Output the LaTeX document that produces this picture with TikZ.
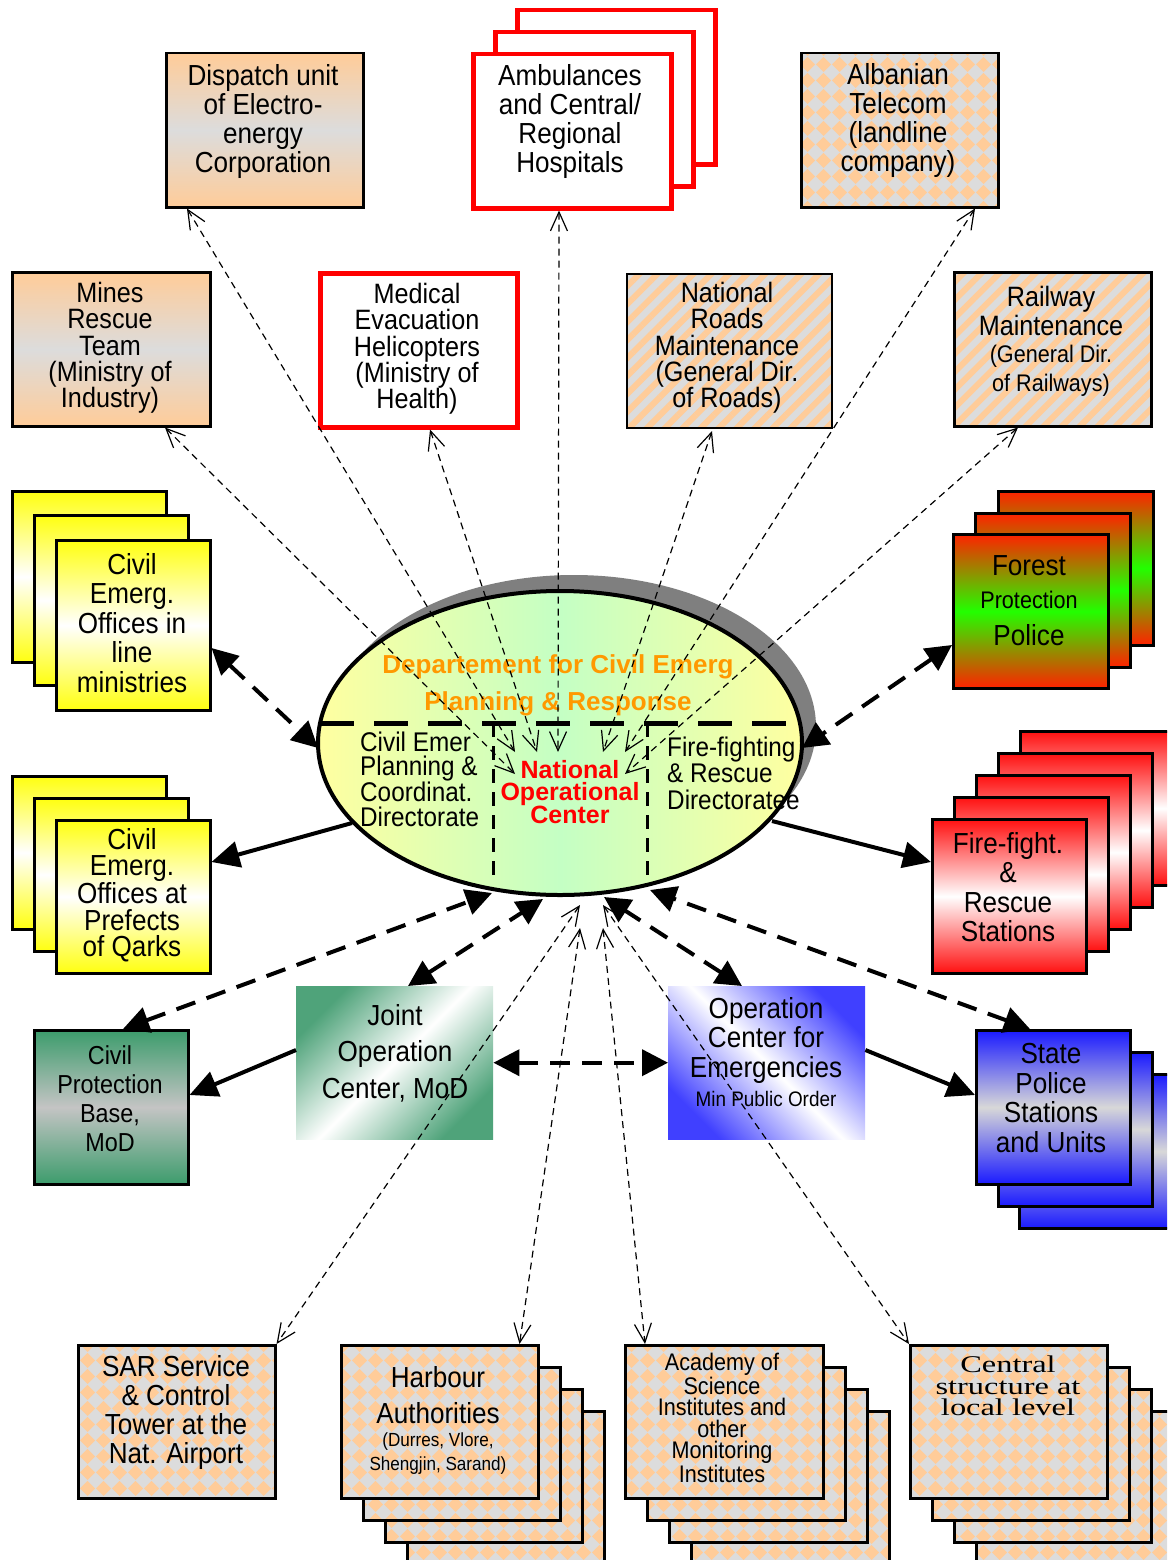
\documentclass[tikz,border=0pt]{standalone}
\usepackage{fontspec}
\usetikzlibrary{shapes.geometric,arrows.meta,patterns.meta,calc}
\newfontfamily\nf[FakeStretch=0.9]{Liberation Sans}
\newfontfamily\nfb{Liberation Sans}
\newfontfamily\cserif[FakeStretch=1.35]{Liberation Serif}
\newcommand\myfs[2]{\fontsize{#1}{#2}\selectfont}
\definecolor{peach}{HTML}{FFCC99}
\definecolor{lgray}{HTML}{DCDCDC}
\definecolor{yel}{HTML}{FFFF10}
\definecolor{fred}{HTML}{FF2200}
\definecolor{fgreen}{HTML}{22FF00}
\definecolor{rred}{HTML}{FF1010}
\definecolor{cgreen}{HTML}{3C9C6C}
\definecolor{cgray}{HTML}{C4C4C4}
\definecolor{jgreen}{HTML}{4FA37A}
\definecolor{oblue}{HTML}{4040FF}
\definecolor{sblue}{HTML}{1A1AFF}
\definecolor{sgray}{HTML}{D8D8D8}
\definecolor{eyel}{HTML}{FFFFA0}
\definecolor{egreen}{HTML}{C4FFC4}
\definecolor{orng}{HTML}{FF9900}
\definecolor{shd}{HTML}{7F7F7F}
\definecolor{bred}{HTML}{FF0000}
\tikzdeclarepattern{
  name=chk,
  type=uncolored,
  bounding box={(0pt,0pt) and (16pt,16pt)},
  tile size={(16pt,16pt)},
  code={\fill (8pt,0pt) -- (16pt,8pt) -- (8pt,16pt) -- (0pt,8pt) -- cycle;}
}
\begin{document}
\begin{tikzpicture}[x=1pt,y=-1pt,
  bx/.style={draw=black, line width=2.5pt, inner sep=0pt, anchor=north west},
  sz/.style 2 args={minimum width=#1pt, minimum height=#2pt},
  rbx/.style={draw=bred, line width=4.5pt, fill=white, inner sep=0pt, anchor=north west},
  peachgray/.style={top color=peach, bottom color=peach, middle color=lgray},
  yelgrad/.style={top color=yel, bottom color=yel, middle color=white},
  forestgrad/.style={top color=fred, bottom color=fred, middle color=fgreen},
  firegrad/.style={top color=rred, bottom color=rred, middle color=white},
  cpbgrad/.style={top color=cgreen, bottom color=cgreen, middle color=cgray},
  spgrad/.style={top color=sblue, bottom color=sblue, middle color=sgray},
  chkfill/.style={preaction={fill=lgray}, pattern=chk, pattern color=peach},
  strfill/.style={preaction={fill=lgray}, pattern={Lines[angle=45,distance=12.7pt,line width=6pt]}, pattern color=peach},
  txt/.style={align=center, inner sep=0pt, font=\nf\myfs{29}{29}},
  thinar/.style={line width=1.2pt, dash pattern=on 7pt off 5pt, {Straight Barb[length=19pt,width=17pt]}-{Straight Barb[length=19pt,width=17pt]}},
  thickdash/.style={line width=4pt, dash pattern=on 20pt off 12pt, {Triangle[length=26pt,width=26pt]}-{Triangle[length=26pt,width=26pt]}},
  thicksolid/.style={line width=4pt, -{Triangle[length=28pt,width=26pt]}}
]
\useasboundingbox (0,0) rectangle (1167,1560);
\clip (0,0) rectangle (1167,1560);

% ---------- central ellipse ----------
\node[ellipse, fill=shd, minimum width=484pt, minimum height=304pt, inner sep=0pt] (depsh) at (574,727) {};
\node[ellipse, draw=black, line width=4pt, minimum width=484pt, minimum height=304pt, inner sep=0pt,
      left color=eyel, right color=eyel, middle color=egreen] (dep) at (560,743) {};
\node[font=\nfb\bfseries\myfs{26}{37}, text=orng, align=center, inner sep=0pt] (deptitle) at (558,685) {Departement for Civil Emerg\\Planning \& Response};
\node[font=\nf\myfs{27}{24.5}, align=left, anchor=west, inner sep=0pt] (cepd) at (360,779) {Civil Emer\\Planning \&\\Coordinat.\\Directorate};
\node[font=\nf\myfs{27}{26.5}, align=left, anchor=west, inner sep=0pt] (frd) at (667,773) {Fire-fighting\\\& Rescue\\Directoratee};
\node[font=\nfb\bfseries\myfs{25}{22}, text=bred, align=center, inner sep=0pt] (noc) at (570,792) {National\\Operational\\Center};
\draw[line width=5pt, dash pattern=on 34pt off 20pt] (320,723) -- (800,723);
\draw[line width=3pt, dash pattern=on 14pt off 9pt] (493,723) -- (493,878);
\draw[line width=3pt, dash pattern=on 14pt off 9pt] (647,723) -- (647,878);

% ellipse connection points
\coordinate (n1) at (515,752);
\coordinate (n2) at (537,752);
\coordinate (n3) at (558,752);
\coordinate (n4) at (603,752);
\coordinate (n5) at (625,752);
\coordinate (n6) at (515,774);
\coordinate (n7) at (625,774);
\coordinate (s1) at (580,905);
\coordinate (s2) at (603,905);
\coordinate (s3) at (580,928);
\coordinate (s4) at (603,928);
\coordinate (ew) at (318,748);
\coordinate (ee) at (802,748);
\coordinate (ecpb) at (492,893);
\coordinate (ejoint) at (543,899);
\coordinate (eopc) at (604,897);
\coordinate (esp) at (650,890);
\coordinate (epref) at (352,823);
\coordinate (efire) at (772,821);

% ---------- top row ----------
\node[bx, sz={197}{154}, peachgray] (dispatch) at (165,52) {};
\node[txt] (dispatch-t) at (263,122) {Dispatch unit\\of Electro-\\energy\\Corporation};

\node[rbx, sz={198}{154}] (amb3) at (515,8) {};
\node[rbx, sz={198}{154}] (amb2) at (493,30) {};
\node[rbx, sz={198}{154}] (amb) at (471,52) {};
\node[txt] (amb-t) at (570,122) {Ambulances\\and Central/\\Regional\\Hospitals};

\node[bx, sz={197}{154}, chkfill] (telecom) at (800,52) {};
\node[txt] (telecom-t) at (898,121) {Albanian\\Telecom\\(landline\\company)};

% ---------- second row ----------
\node[bx, sz={198}{154}, peachgray] (mines) at (11,271) {};
\node[txt, font=\nf\myfs{28}{26.3}] (mines-t) at (110,348) {Mines\\Rescue\\Team\\(Ministry of\\Industry)};

\node[rbx, sz={197}{154}] (medevac) at (318,271) {};
\node[txt, font=\nf\myfs{28}{26.3}] (medevac-t) at (417,349) {Medical\\Evacuation\\Helicopters\\(Ministry of\\Health)};

\node[bx, sz={205}{154}, strfill] (roads) at (624,271) {};
\node[txt, font=\nf\myfs{28}{26.3}] (roads-t) at (727,348) {National\\Roads\\Maintenance\\(General Dir.\\of Roads)};

\node[bx, sz={197}{154}, strfill] (railway) at (953,271) {};
\node[txt, font=\nf\myfs{28}{29}] (railway-t) at (1051,311) {Railway\\Maintenance};
\node[txt, font=\nf\myfs{24}{29}] (railway-t2) at (1051,371) {(General Dir.\\of Railways)};

% ---------- left column ----------
\node[bx, sz={154}{171}, yelgrad] (min3) at (11,490) {};
\node[bx, sz={154}{170}, yelgrad] (min2) at (33,514) {};
\node[bx, sz={154}{170}, yelgrad] (min) at (55,539) {};
\node[txt, font=\nf\myfs{29}{29.5}] (min-t) at (132,623) {Civil\\Emerg.\\Offices in\\line\\ministries};

\node[bx, sz={154}{153}, yelgrad] (pref3) at (11,775) {};
\node[bx, sz={154}{153}, yelgrad] (pref2) at (33,797) {};
\node[bx, sz={154}{153}, yelgrad] (pref) at (55,819) {};
\node[txt, font=\nf\myfs{29}{26.5}] (pref-t) at (132,895) {Civil\\Emerg.\\Offices at\\Prefects\\of Qarks};

% ---------- right column ----------
\node[bx, sz={155}{154}, forestgrad] (forest3) at (997,490) {};
\node[bx, sz={155}{154}, forestgrad] (forest2) at (974,512) {};
\node[bx, sz={155}{154}, forestgrad] (forest) at (952,533) {};
\node[txt] (forest-t1) at (1029,566) {Forest};
\node[txt, font=\nf\myfs{24}{24}] (forest-t2) at (1029,600) {Protection};
\node[txt] (forest-t3) at (1029,635) {Police};

\node[bx, sz={154}{154}, firegrad] (fire5) at (1019,730) {};
\node[bx, sz={154}{154}, firegrad] (fire4) at (997,752) {};
\node[bx, sz={154}{154}, firegrad] (fire3) at (975,774) {};
\node[bx, sz={154}{154}, firegrad] (fire2) at (953,796) {};
\node[bx, sz={154}{154}, firegrad] (fire) at (931,818) {};
\node[txt, font=\nf\myfs{29}{29.5}] (fire-t) at (1008,887) {Fire-fight.\\\&\\Rescue\\Stations};

% ---------- lower middle ----------
\node[bx, sz={154}{154}, cpbgrad] (cpb) at (33,1029) {};
\node[txt, font=\nf\myfs{26}{29}] (cpb-t) at (110,1099) {Civil\\Protection\\Base,\\MoD};

\node[inner sep=0pt, anchor=north west, sz={197}{153}, shading=axis, top color=jgreen, bottom color=jgreen, middle color=white, shading angle=45] (joint) at (296,986) {};
\node[txt, font=\nf\myfs{29}{36.5}] (joint-t) at (395,1053) {Joint\\Operation\\Center, MoD};

\node[inner sep=0pt, anchor=north west, sz={197}{153}, shading=axis, top color=oblue, bottom color=oblue, middle color=white, shading angle=-45] (opc) at (668,986) {};
\node[txt, font=\nf\myfs{29}{29.5}] (opc-t) at (766,1040) {Operation\\Center for\\Emergencies};
\node[txt, font=\nf\myfs{21}{21}] (opc-t2) at (766,1099) {Min Public Order};

\node[bx, sz={154}{154}, spgrad] (sp3) at (1018,1073) {};
\node[bx, sz={154}{154}, spgrad] (sp2) at (997,1051) {};
\node[bx, sz={154}{154}, spgrad] (sp) at (975,1029) {};
\node[txt, font=\nf\myfs{29}{29.5}] (sp-t) at (1051,1098) {State\\Police\\Stations\\and Units};

% ---------- bottom row ----------
\node[bx, sz={197}{153}, chkfill] (sar) at (77,1344) {};
\node[txt] (sar-t) at (176,1412) {SAR Service\\\& Control\\Tower at the\\Nat. Airport};

\node[bx, sz={197}{153}, chkfill] (harb4) at (406,1410) {};
\node[bx, sz={197}{153}, chkfill] (harb3) at (384,1388) {};
\node[bx, sz={197}{153}, chkfill] (harb2) at (362,1366) {};
\node[bx, sz={197}{153}, chkfill] (harb) at (340,1344) {};
\node[txt, font=\nf\myfs{29}{36}] (harb-t) at (438,1395) {Harbour\\Authorities};
\node[txt, font=\nf\myfs{19}{24}] (harb-t2) at (438,1454) {(Durres, Vlore,\\Shengjin, Sarand)};

\node[bx, sz={198}{153}, chkfill] (acad4) at (690,1410) {};
\node[bx, sz={198}{153}, chkfill] (acad3) at (668,1388) {};
\node[bx, sz={198}{153}, chkfill] (acad2) at (646,1366) {};
\node[bx, sz={198}{153}, chkfill] (acad) at (624,1344) {};
\node[txt, font=\nf\myfs{24}{21.5}] (acad-t) at (722,1418) {Academy of\\Science\\Institutes and\\other\\Monitoring\\Institutes};

\node[bx, sz={197}{153}, chkfill] (central4) at (975,1410) {};
\node[bx, sz={197}{153}, chkfill] (central3) at (953,1388) {};
\node[bx, sz={197}{153}, chkfill] (central2) at (931,1366) {};
\node[bx, sz={197}{153}, chkfill] (central) at (909,1344) {};
\node[txt, font=\cserif\myfs{24}{21.5}] (central-t) at (1008,1386) {Central\\structure at\\local level};

% ---------- connectors ----------
\draw[thinar] ([xshift=22pt]dispatch.south west) -- (n1);
\draw[thinar] ([xshift=154pt]mines.south west) -- (n6);
\draw[thinar] ([xshift=112pt]medevac.south west) -- (n2);
\draw[thinar] ([xshift=88pt]amb.south west) -- (n3);
\draw[thinar] ([xshift=88pt]roads.south west) -- (n4);
\draw[thinar] ([xshift=175pt]telecom.south west) -- (n5);
\draw[thinar] ([xshift=65pt]railway.south west) -- (n7);

\draw[thinar] (s1) -- (sar.north east);
\draw[thinar] (s3) -- ([xshift=-20pt]harb.north east);
\draw[thinar] (s4) -- ([xshift=21pt]acad.north west);
\draw[thinar] (s2) -- (central.north west);

\draw[thickdash] ([yshift=-109pt]min.north east) -- (ew);
\draw[thickdash] ([yshift=-112pt]forest.north west) -- (ee);
\draw[thickdash] ([xshift=90pt]cpb.north west) -- (ecpb);
\draw[thickdash] ([xshift=112pt]joint.north west) -- (ejoint);
\draw[thickdash] ([xshift=74pt]opc.north west) -- (eopc);
\draw[thickdash] ([xshift=55pt]sp.north west) -- (esp);
\draw[thickdash] (joint.east) -- (opc.west);

\draw[thicksolid] (epref) -- ([yshift=-43pt]pref.north east);
\draw[thicksolid] (efire) -- ([yshift=-44pt]fire.north west);
\draw[thicksolid] ([yshift=-64pt]joint.north west) -- ([yshift=-66pt]cpb.north east);
\draw[thicksolid] ([yshift=-64pt]opc.north east) -- ([yshift=-66pt]sp.north west);
\end{tikzpicture}
\end{document}
